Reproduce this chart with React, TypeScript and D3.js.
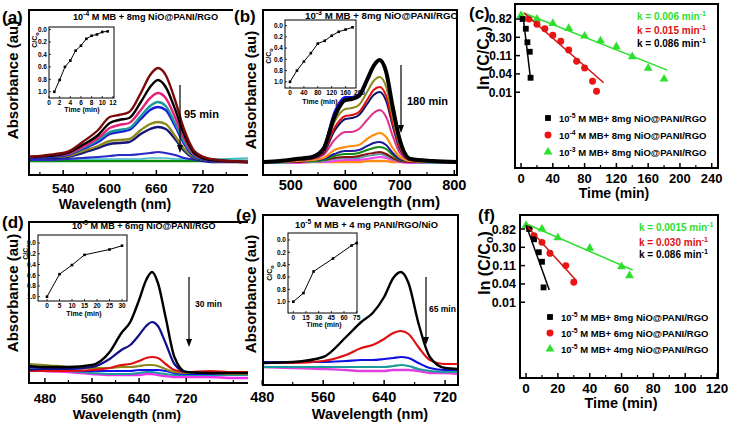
import React from 'react';
import * as d3 from 'd3';

const FONT = '"Liberation Sans", Arial, Helvetica, sans-serif';

// (a) 10^-4 M MB + 8 mg, absorbance spectra, top -> bottom
const WL_A = [496, 520, 545, 565, 585, 600, 612, 625, 640, 652, 662, 672, 684, 696, 710, 730, 778];
const ABS_A = [
  [0.18, 0.20, 0.23, 0.33, 0.45, 0.58, 0.60, 0.63, 0.82, 1.00, 1.07, 1.00, 0.75, 0.45, 0.23, 0.16, 0.13],
  [0.18, 0.19, 0.22, 0.30, 0.40, 0.52, 0.55, 0.57, 0.73, 0.88, 0.95, 0.88, 0.66, 0.40, 0.21, 0.15, 0.13],
  [0.18, 0.19, 0.21, 0.28, 0.37, 0.47, 0.50, 0.52, 0.65, 0.77, 0.82, 0.77, 0.58, 0.36, 0.20, 0.15, 0.13],
  [0.18, 0.19, 0.21, 0.27, 0.35, 0.43, 0.45, 0.47, 0.59, 0.69, 0.73, 0.69, 0.52, 0.33, 0.19, 0.15, 0.14],
  [0.17, 0.18, 0.20, 0.26, 0.33, 0.41, 0.43, 0.45, 0.56, 0.65, 0.68, 0.65, 0.49, 0.31, 0.18, 0.14, 0.13],
  [0.17, 0.18, 0.19, 0.24, 0.29, 0.34, 0.35, 0.36, 0.45, 0.51, 0.53, 0.51, 0.39, 0.26, 0.17, 0.14, 0.13],
  [0.17, 0.17, 0.18, 0.22, 0.27, 0.31, 0.32, 0.33, 0.41, 0.46, 0.48, 0.46, 0.36, 0.24, 0.16, 0.13, 0.13],
  [0.15, 0.15, 0.16, 0.17, 0.18, 0.19, 0.20, 0.20, 0.21, 0.22, 0.23, 0.22, 0.20, 0.17, 0.15, 0.14, 0.13],
  [0.16, 0.16, 0.16, 0.16, 0.16, 0.16, 0.16, 0.16, 0.16, 0.17, 0.17, 0.17, 0.16, 0.16, 0.16, 0.16, 0.17],
  [0.14, 0.14, 0.14, 0.14, 0.14, 0.14, 0.14, 0.14, 0.14, 0.14, 0.14, 0.14, 0.14, 0.14, 0.14, 0.14, 0.14],
];
const COLORS_A = ['#7a0a0a', '#000000', '#e8207a', '#1a9a9a', '#1a1adf', '#8c8a1a', '#14147a', '#2a2ac8', '#40b8d0', '#0a8a0a'];

// (b) 10^-3 M MB + 8 mg
const WL_B = [450, 480, 510, 540, 560, 580, 600, 612, 625, 640, 652, 663, 675, 687, 700, 720, 760, 805];
const ABS_B = [
  [0.13, 0.14, 0.16, 0.18, 0.26, 0.58, 0.75, 0.76, 0.79, 0.95, 1.09, 1.15, 1.03, 0.68, 0.35, 0.16, 0.14, 0.13],
  [0.13, 0.14, 0.16, 0.19, 0.28, 0.63, 0.78, 0.78, 0.81, 0.97, 1.10, 1.15, 1.03, 0.68, 0.35, 0.16, 0.14, 0.13],
  [0.13, 0.14, 0.15, 0.18, 0.25, 0.53, 0.66, 0.67, 0.70, 0.83, 0.94, 0.98, 0.88, 0.58, 0.30, 0.16, 0.14, 0.13],
  [0.13, 0.14, 0.15, 0.17, 0.23, 0.47, 0.59, 0.60, 0.63, 0.75, 0.85, 0.88, 0.79, 0.52, 0.28, 0.15, 0.14, 0.13],
  [0.13, 0.14, 0.15, 0.17, 0.22, 0.44, 0.56, 0.57, 0.60, 0.71, 0.80, 0.83, 0.74, 0.49, 0.26, 0.15, 0.14, 0.13],
  [0.13, 0.14, 0.15, 0.16, 0.20, 0.35, 0.43, 0.43, 0.46, 0.55, 0.62, 0.65, 0.58, 0.39, 0.22, 0.15, 0.14, 0.13],
  [0.13, 0.13, 0.14, 0.15, 0.17, 0.25, 0.28, 0.29, 0.30, 0.36, 0.40, 0.42, 0.38, 0.27, 0.18, 0.14, 0.13, 0.13],
  [0.13, 0.13, 0.14, 0.15, 0.16, 0.21, 0.24, 0.24, 0.25, 0.29, 0.32, 0.33, 0.30, 0.22, 0.16, 0.14, 0.13, 0.13],
  [0.13, 0.13, 0.14, 0.14, 0.15, 0.19, 0.21, 0.21, 0.22, 0.25, 0.27, 0.28, 0.26, 0.20, 0.15, 0.14, 0.13, 0.13],
  [0.13, 0.13, 0.13, 0.14, 0.15, 0.17, 0.18, 0.18, 0.19, 0.21, 0.22, 0.23, 0.21, 0.17, 0.14, 0.13, 0.13, 0.12],
  [0.12, 0.12, 0.13, 0.13, 0.14, 0.16, 0.17, 0.17, 0.17, 0.19, 0.20, 0.21, 0.19, 0.16, 0.14, 0.13, 0.12, 0.12],
  [0.12, 0.12, 0.12, 0.13, 0.13, 0.14, 0.15, 0.15, 0.15, 0.16, 0.17, 0.18, 0.17, 0.15, 0.13, 0.12, 0.12, 0.12],
  [0.13, 0.13, 0.13, 0.13, 0.13, 0.13, 0.13, 0.13, 0.13, 0.14, 0.14, 0.14, 0.14, 0.13, 0.13, 0.13, 0.13, 0.13],
];
const COLORS_B = ['#000000', '#1010f0', '#8c8a1a', '#e01010', '#10106a', '#e0308a', '#ff8c10', '#1a1a9a', '#108a10', '#8a1010', '#5a9aa8', '#f040f0', '#ff8c10'];
const WIDTHS_B = [4, 2, 2, 2, 2, 2, 2.2, 2, 2, 2, 2, 2, 2.6];

// (d) 10^-5 M MB + 6 mg
const WL_D = [453, 480, 520, 560, 590, 610, 625, 640, 652, 662, 672, 685, 700, 720, 760, 800, 825];
const ABS_D = [
  [0.17, 0.16, 0.16, 0.18, 0.31, 0.50, 0.61, 0.83, 1.03, 1.11, 1.00, 0.66, 0.26, 0.11, 0.10, 0.10, 0.10],
  [0.13, 0.14, 0.14, 0.16, 0.24, 0.33, 0.38, 0.48, 0.57, 0.61, 0.57, 0.40, 0.19, 0.11, 0.10, 0.10, 0.10],
  [0.12, 0.12, 0.12, 0.13, 0.15, 0.18, 0.19, 0.22, 0.25, 0.26, 0.25, 0.19, 0.13, 0.11, 0.12, 0.11, 0.11],
  [0.19, 0.18, 0.16, 0.15, 0.15, 0.16, 0.16, 0.17, 0.18, 0.18, 0.17, 0.14, 0.11, 0.10, 0.10, 0.09, 0.09],
  [0.16, 0.15, 0.13, 0.12, 0.12, 0.12, 0.12, 0.13, 0.13, 0.13, 0.13, 0.12, 0.10, 0.09, 0.09, 0.09, 0.09],
  [0.14, 0.13, 0.12, 0.10, 0.09, 0.09, 0.09, 0.10, 0.11, 0.11, 0.10, 0.09, 0.08, 0.08, 0.08, 0.08, 0.08],
  [0.14, 0.12, 0.11, 0.09, 0.08, 0.08, 0.08, 0.08, 0.09, 0.09, 0.08, 0.07, 0.06, 0.06, 0.06, 0.05, 0.05],
];
const COLORS_D = ['#000000', '#10108a', '#e01010', '#8c8a1a', '#1010f0', '#1a9a9a', '#f030f0'];

// (e) 10^-5 M MB + 4 mg PANI/RGO/NiO
const WL_E = [481, 520, 560, 590, 610, 625, 640, 652, 662, 672, 685, 700, 720, 737];
const ABS_E = [
  [0.22, 0.23, 0.28, 0.48, 0.63, 0.72, 0.88, 1.07, 1.13, 1.02, 0.62, 0.28, 0.17, 0.16],
  [0.22, 0.22, 0.24, 0.30, 0.37, 0.40, 0.46, 0.52, 0.54, 0.51, 0.38, 0.25, 0.21, 0.21],
  [0.23, 0.23, 0.23, 0.24, 0.25, 0.25, 0.26, 0.27, 0.28, 0.27, 0.22, 0.17, 0.15, 0.15],
  [0.18, 0.18, 0.18, 0.18, 0.18, 0.18, 0.18, 0.19, 0.20, 0.19, 0.16, 0.14, 0.13, 0.13],
  [0.18, 0.17, 0.16, 0.15, 0.14, 0.14, 0.14, 0.15, 0.15, 0.15, 0.14, 0.12, 0.12, 0.11],
];
const COLORS_E = ['#000000', '#e01010', '#1010e0', '#1a9a9a', '#e040e0'];

// insets: C/C0 vs time
const INSET_A_T = [1, 2, 3, 4, 5, 6, 7, 8, 9, 10, 11];
const INSET_A_C = [1.0, 0.81, 0.6, 0.5, 0.34, 0.26, 0.15, 0.1, 0.08, 0.04, 0.03];
const INSET_B_T = [0, 20, 40, 60, 80, 100, 120, 140, 160, 180];
const INSET_B_C = [1.0, 0.8, 0.64, 0.49, 0.32, 0.27, 0.18, 0.11, 0.07, 0.03];
const INSET_D_T = [0, 5, 10, 15, 25, 30];
const INSET_D_C = [1.0, 0.58, 0.41, 0.22, 0.12, 0.05];
const INSET_E_T = [0, 12, 24, 47, 69, 75];
const INSET_E_C = [1.0, 0.86, 0.51, 0.3, 0.09, 0.05];
const CC0_TICKS = [0, 0.2, 0.4, 0.6, 0.8, 1.0];

// (c) ln(C/C0) vs time, concentration series
const LN_TICKS = [-0.2, -1.2, -2.2, -3.2, -4.2];
const LN_LABELS = ['0.82', '0.30', '0.11', '0.04', '0.01'];
const C_BLACK_T = [2, 6, 8, 11, 12];
const C_BLACK_LN = [-0.2, -0.73, -1.47, -1.99, -3.41];
const C_RED_T = [10, 20, 30, 40, 50, 60, 70, 80, 90, 95];
const C_RED_LN = [-0.2, -0.49, -0.73, -1.09, -1.42, -1.89, -2.51, -2.88, -3.6, -4.15];
const C_GREEN_T = [0, 20, 40, 60, 80, 100, 120, 140, 160, 180];
const C_GREEN_LN = [0.0, -0.2, -0.44, -0.71, -1.13, -1.39, -1.71, -2.26, -2.89, -3.48];
const C_FIT_BLACK = [[2.9, -0.16], [12.1, -3.53]];
const C_FIT_RED = [[4, 0.12], [104, -3.68]];
const C_FIT_GREEN = [[2.9, 0.14], [184, -2.99]];
const C_K = ['0.006', '0.015', '0.086'];
const C_LEGEND = ['-5', '-4', '-3'];
const C_TICKS = [0, 40, 80, 120, 160, 200, 240];

// (f) ln(C/C0) vs time, catalyst mass series
const F_BLACK_T = [2, 5, 8, 10, 11];
const F_BLACK_LN = [-0.2, -0.76, -1.47, -1.99, -3.39];
const F_RED_T = [2, 5, 10, 15, 25, 30];
const F_RED_LN = [-0.16, -0.57, -0.93, -1.53, -2.2, -3.11];
const F_GREEN_T = [0, 10, 20, 40, 60, 65];
const F_GREEN_LN = [0.0, -0.2, -0.68, -1.25, -2.26, -2.75];
const F_FIT_BLACK = [[0, 0.02], [14.6, -3.53]];
const F_FIT_RED = [[0.4, -0.04], [31.7, -3.03]];
const F_FIT_GREEN = [[0.4, 0.07], [67, -2.44]];
const F_K = ['0.0015', '0.030', '0.086'];
const F_LEGEND = ['8mg', '6mg', '4mg'];
const F_TICKS = [0, 20, 40, 60, 80, 100, 120];

type Box = { x0: number; x1: number; y0: number; y1: number };

function Sup({ base, sup, fs, after }: { base: string; sup: string; fs: number; after: string }) {
  return (
    <>
      {base}
      <tspan dy={-fs * 0.4} fontSize={fs * 0.72}>{sup}</tspan>
      <tspan dy={fs * 0.4}>{after}</tspan>
    </>
  );
}

function Inset(props: {
  box: Box; xDomain: [number, number]; yDomain: [number, number]; xTicks: number[];
  t: number[]; c: number[]; tickY: number; titleX: number; titleY: number; ylab: [number, number];
}) {
  const { box } = props;
  const x = d3.scaleLinear().domain(props.xDomain).range([box.x0, box.x1]);
  const y = d3.scaleLinear().domain(props.yDomain).range([box.y0, box.y1]);
  const line = d3.line<number>().x((_, i) => x(props.t[i])).y(d => y(d));
  return (
    <g fontFamily={FONT} fontWeight="bold" fontSize={6.5}>
      <rect x={box.x0} y={box.y0} width={box.x1 - box.x0} height={box.y1 - box.y0} fill="#fff" stroke="#000" strokeWidth={1} />
      {props.xTicks.map(v => (
        <g key={v}>
          {x(v) <= box.x1 + 0.5 && <line x1={x(v)} x2={x(v)} y1={box.y1} y2={box.y1 - 2} stroke="#000" strokeWidth={0.8} />}
          <text x={x(v)} y={props.tickY} textAnchor="middle">{v}</text>
        </g>
      ))}
      {CC0_TICKS.map(v => (
        <g key={v}>
          <line x1={box.x0} x2={box.x0 + 2} y1={y(v)} y2={y(v)} stroke="#000" strokeWidth={0.8} />
          <text x={box.x0 - 2} y={y(v) + 2.3} textAnchor="end">{v.toFixed(1)}</text>
        </g>
      ))}
      <path d={line(props.c) ?? ''} fill="none" stroke="#000" strokeWidth={1} />
      {props.c.map((v, i) => (
        <rect key={i} x={x(props.t[i]) - 1.3} y={y(v) - 1.3} width={2.6} height={2.6} fill="#000" />
      ))}
      <text x={props.titleX} y={props.titleY} textAnchor="middle" fontSize={7}>Time (min)</text>
      <text transform={`translate(${props.ylab[0]},${props.ylab[1]}) rotate(-90)`} textAnchor="middle" fontSize={7}>
        C/C<tspan dy={2} fontSize={5.5}>o</tspan>
      </text>
    </g>
  );
}

function Spectra(props: {
  id: string; box: Box; xDomain: [number, number]; yMax: number; wl: number[]; series: number[][];
  colors: string[]; widths?: number[]; ticks: number[]; minor: number[]; tickFs: number; tickY: number;
  openRight?: boolean;
}) {
  const { box } = props;
  const x = d3.scaleLinear().domain(props.xDomain).range([box.x0, box.x1]);
  const y = d3.scaleLinear().domain([0, props.yMax]).range([box.y1, box.y0]);
  const line = d3.line<number>().x((_, i) => x(props.wl[i])).y(d => y(d)).curve(d3.curveMonotoneX);
  const order = props.series.map((_, i) => i).reverse();
  const frame = props.openRight
    ? `M${box.x1},${box.y0} H${box.x0} V${box.y1} H${box.x1}`
    : `M${box.x0},${box.y0} H${box.x1} V${box.y1} H${box.x0} Z`;
  return (
    <g>
      <clipPath id={props.id}>
        <rect x={box.x0} y={box.y0} width={box.x1 - box.x0} height={box.y1 - box.y0} />
      </clipPath>
      <g clipPath={`url(#${props.id})`}>
        {order.map(i => (
          <path key={i} d={line(props.series[i]) ?? ''} fill="none" stroke={props.colors[i]}
            strokeWidth={props.widths ? props.widths[i] : 2} strokeLinejoin="round" />
        ))}
      </g>
      <path d={frame} fill="none" stroke="#000" strokeWidth={2} />
      {props.ticks.map(v => (
        <g key={v}>
          <line x1={x(v)} x2={x(v)} y1={box.y1} y2={box.y1 - 5} stroke="#000" strokeWidth={1.5} />
          <text x={x(v)} y={props.tickY} textAnchor="middle" fontFamily={FONT} fontWeight="bold" fontSize={props.tickFs}>{v}</text>
        </g>
      ))}
      {props.minor.map(v => (
        <line key={v} x1={x(v)} x2={x(v)} y1={box.y1} y2={box.y1 - 3} stroke="#000" strokeWidth={1.2} />
      ))}
    </g>
  );
}

function Arrow({ x, y0, y1 }: { x: number; y0: number; y1: number }) {
  return (
    <g>
      <line x1={x} x2={x} y1={y0} y2={y1 - 6} stroke="#000" strokeWidth={1.2} />
      <path d={`M${x - 3},${y1 - 8} L${x + 3},${y1 - 8} L${x},${y1} Z`} fill="#000" />
    </g>
  );
}

const SQUARE = d3.symbol(d3.symbolSquare, 34)() ?? '';
const CIRCLE = d3.symbol(d3.symbolCircle, 38)() ?? '';
const TRIANGLE = d3.symbol(d3.symbolTriangle, 34)() ?? '';
const RED = '#ee1414';
const GREEN = '#2ee02e';

function Kinetics(props: {
  box: Box; xDomain: [number, number]; yDomain: [number, number]; xTicks: number[]; minorStep: number;
  black: [number[], number[]]; red: [number[], number[]]; green: [number[], number[]];
  fits: number[][][]; tickFs: number; yTickFs: number; tickY: number; yLabX: number;
}) {
  const { box } = props;
  const x = d3.scaleLinear().domain(props.xDomain).range([box.x0, box.x1]);
  const y = d3.scaleLinear().domain(props.yDomain).range([box.y1, box.y0]);
  const fit = d3.line<number[]>().x(d => x(d[0])).y(d => y(d[1]));
  const minors = d3.range(props.xTicks[0] + props.minorStep, props.xTicks[props.xTicks.length - 1], props.minorStep * 2);
  const pts = (s: [number[], number[]], shape: string, color: string) =>
    s[0].map((t, i) => <path key={i} d={shape} transform={`translate(${x(t)},${y(s[1][i])})`} fill={color} />);
  return (
    <g fontFamily={FONT} fontWeight="bold">
      <rect x={box.x0} y={box.y0} width={box.x1 - box.x0} height={box.y1 - box.y0} fill="none" stroke="#000" strokeWidth={2} />
      {props.xTicks.map(v => (
        <g key={v}>
          <line x1={x(v)} x2={x(v)} y1={box.y1} y2={box.y1 - 5} stroke="#000" strokeWidth={1.5} />
          <text x={x(v)} y={props.tickY} textAnchor="middle" fontSize={props.tickFs}>{v}</text>
        </g>
      ))}
      {minors.map(v => (
        <line key={v} x1={x(v)} x2={x(v)} y1={box.y1} y2={box.y1 - 3} stroke="#000" strokeWidth={1.2} />
      ))}
      {LN_TICKS.map((v, i) => (
        <g key={v}>
          <line x1={box.x0} x2={box.x0 + 5} y1={y(v)} y2={y(v)} stroke="#000" strokeWidth={1.5} />
          <text x={props.yLabX} y={y(v) + props.yTickFs * 0.36} textAnchor="end" fontSize={props.yTickFs}>{LN_LABELS[i]}</text>
        </g>
      ))}
      {pts(props.green, TRIANGLE, GREEN)}
      {pts(props.red, CIRCLE, RED)}
      {pts(props.black, SQUARE, '#000')}
      <path d={fit(props.fits[2]) ?? ''} stroke={GREEN} strokeWidth={1.5} fill="none" />
      <path d={fit(props.fits[1]) ?? ''} stroke="#d01818" strokeWidth={1.5} fill="none" />
      <path d={fit(props.fits[0]) ?? ''} stroke="#000" strokeWidth={1.5} fill="none" />
    </g>
  );
}

function KText({ x, y, k, color }: { x: number; y: number; k: string; color: string }) {
  return (
    <text x={x} y={y} fill={color} fontFamily={FONT} fontWeight="bold" fontSize={10}>
      <Sup base={`k = ${k} min`} sup="-1" fs={10} after="" />
    </text>
  );
}

function Legend({ x, y0, step, exps, masses }: { x: number; y0: number; step: number; exps: string[]; masses: string[] }) {
  const shapes = [[SQUARE, '#000'], [CIRCLE, RED], [TRIANGLE, GREEN]];
  return (
    <g fontFamily={FONT} fontWeight="bold" fontSize={9.5}>
      {exps.map((e, i) => (
        <g key={i}>
          <path d={shapes[i][0]} transform={`translate(${x},${y0 + i * step})`} fill={shapes[i][1]} />
          <text x={x + 11} y={y0 + i * step + 3.5}>
            <Sup base="10" sup={e} fs={9.5} after={` M MB+ ${masses[i]} NiO@PANI/RGO`} />
          </text>
        </g>
      ))}
    </g>
  );
}

function LnLabel({ x, y }: { x: number; y: number }) {
  return (
    <text transform={`translate(${x},${y}) rotate(-90)`} textAnchor="middle" fontSize={16} fontFamily={FONT} fontWeight="bold">
      ln (C/C<tspan dy={3} fontSize={11}>o</tspan><tspan dy={-3}>)</tspan>
    </text>
  );
}

export default function App() {
  const bold = { fontFamily: FONT, fontWeight: 'bold' as const };
  const boxA = { x0: 29, x1: 248, y0: 10, y1: 175 };
  const boxB = { x0: 263, x1: 457, y0: 10, y1: 175 };
  const boxC = { x0: 515, x1: 718, y0: 4, y1: 168 };
  const boxD = { x0: 29, x1: 248, y0: 222, y1: 383 };
  const boxE = { x0: 263, x1: 458, y0: 215, y1: 385 };
  const boxF = { x0: 520, x1: 718, y0: 215, y1: 378 };
  return (
    <svg width={729} height={422} style={{ position: 'absolute', left: 0, top: 0, background: '#fff' }}>
      <rect width={729} height={422} fill="#fff" />

      {/* (a) */}
      <Spectra id="ca" box={boxA} xDomain={[496, 778]} yMax={1.65} wl={WL_A} series={ABS_A} colors={COLORS_A}
        widths={[2.4, 2.4, 2.4, 2.4, 2.4, 2.4, 2.4, 2.2, 1.5, 2.4]} openRight
        ticks={[540, 600, 660, 720]} minor={[510, 570, 630, 690, 750]} tickFs={13.5} tickY={193} />
      <Inset box={{ x0: 49, x1: 114, y0: 27, y1: 98 }} xDomain={[0, 12.2]} yDomain={[-0.04, 1.1]}
        xTicks={[0, 2, 4, 6, 8, 10, 12]} t={INSET_A_T} c={INSET_A_C} tickY={105} titleX={82} titleY={112} ylab={[37, 40]} />
      <text x={73} y={20} fontSize={9.2} {...bold}><Sup base="10" sup="-4" fs={9.2} after=" M MB + 8mg NiO@PANI/RGO" /></text>
      <Arrow x={180} y0={85} y1={153} />
      <text x={184} y={118} fontSize={11} {...bold}>95 min</text>
      <text x={2} y={23} fontSize={17} {...bold}>(a)</text>
      <text transform="translate(18,80) rotate(-90)" textAnchor="middle" fontSize={15} {...bold}>Absorbance (au)</text>
      <text x={115} y={209} textAnchor="middle" fontSize={14} {...bold}>Wavelength (nm)</text>

      {/* (b) */}
      <rect x={233} y={0} width={29} height={26} fill="#fff" />
      <Spectra id="cb" box={boxB} xDomain={[449, 805]} yMax={1.65} wl={WL_B} series={ABS_B} colors={COLORS_B}
        widths={WIDTHS_B} ticks={[500, 600, 700, 800]} minor={[550, 650, 750]} tickFs={14.5} tickY={190} />
      <Inset box={{ x0: 285, x1: 356, y0: 20, y1: 88 }} xDomain={[-14.4, 190]} yDomain={[-0.1, 1.11]}
        xTicks={[0, 40, 80, 120, 160, 200]} t={INSET_B_T} c={INSET_B_C} tickY={95} titleX={320} titleY={104} ylab={[271, 56]} />
      <text x={305} y={19} fontSize={9.7} {...bold}><Sup base="10" sup="-3" fs={9.7} after=" M MB + 8mg NiO@PANI/RGO" /></text>
      <Arrow x={401} y0={65} y1={133} />
      <text x={407} y={105} fontSize={11} {...bold}>180 min</text>
      <text x={234} y={22} fontSize={17} {...bold}>(b)</text>
      <text transform="translate(256,90) rotate(-90)" textAnchor="middle" fontSize={15} {...bold}>Absorbance (au)</text>
      <text x={378} y={207} textAnchor="middle" fontSize={15.5} {...bold}>Wavelength (nm)</text>

      {/* (c) */}
      <Kinetics box={boxC} xDomain={[-7.6, 247.9]} yDomain={[-8.34, 0.62]} xTicks={C_TICKS} minorStep={20}
        black={[C_BLACK_T, C_BLACK_LN]} red={[C_RED_T, C_RED_LN]} green={[C_GREEN_T, C_GREEN_LN]}
        fits={[C_FIT_BLACK, C_FIT_RED, C_FIT_GREEN]} tickFs={13} yTickFs={12} tickY={183} yLabX={512} />
      <KText x={637} y={20} k={C_K[0]} color={GREEN} />
      <KText x={637} y={34} k={C_K[1]} color="#e01010" />
      <KText x={637} y={47} k={C_K[2]} color="#000" />
      <Legend x={548} y0={118} step={17} exps={C_LEGEND} masses={['8mg', '8mg', '8mg']} />
      <text x={469} y={19} fontSize={17} {...bold}>(c)</text>
      <LnLabel x={489} y={58} />
      <text x={614} y={198} textAnchor="middle" fontSize={14} {...bold}>Time (min)</text>

      {/* (d) */}
      <Spectra id="cd" box={boxD} xDomain={[453, 825]} yMax={1.61} wl={WL_D} series={ABS_D} colors={COLORS_D}
        widths={[2.4, 2.2, 2.2, 2.2, 2.2, 2, 2.4]} openRight
        ticks={[480, 560, 640, 720]} minor={[520, 600, 680, 760, 800]} tickFs={13.5} tickY={402.5} />
      <Inset box={{ x0: 38, x1: 127, y0: 235, y1: 301 }} xDomain={[-3.6, 32]} yDomain={[-0.15, 1.08]}
        xTicks={[0, 5, 10, 15, 20, 25, 30]} t={INSET_D_T} c={INSET_D_C} tickY={308} titleX={84} titleY={316} ylab={[28, 252]} />
      <text x={72} y={229} fontSize={9.1} {...bold}><Sup base="10" sup="-5" fs={9.1} after=" M MB + 6mg NiO@PANI/RGO" /></text>
      <Arrow x={189} y0={277} y1={347} />
      <text x={195} y={307} fontSize={8.5} {...bold}>30 min</text>
      <text x={2} y={228} fontSize={17} {...bold}>(d)</text>
      <text transform="translate(18,293) rotate(-90)" textAnchor="middle" fontSize={15} {...bold}>Absorbance (au)</text>
      <text x={127} y={419} textAnchor="middle" fontSize={13.5} {...bold}>Wavelength (nm)</text>

      {/* (e) */}
      <Spectra id="ce" box={boxE} xDomain={[481, 737]} yMax={1.70} wl={WL_E} series={ABS_E} colors={COLORS_E}
        widths={[2.4, 2.2, 2.2, 2.2, 2.4]}
        ticks={[480, 560, 640, 720]} minor={[520, 600, 680]} tickFs={14.5} tickY={401.5} />
      <Inset box={{ x0: 288, x1: 357, y0: 233, y1: 313 }} xDomain={[-6.3, 75.4]} yDomain={[-0.113, 1.183]}
        xTicks={[0, 15, 30, 45, 60, 75]} t={INSET_E_T} c={INSET_E_C} tickY={320} titleX={324} titleY={327} ylab={[272, 273]} />
      <text x={295} y={228} fontSize={9.3} {...bold}><Sup base="10" sup="-5" fs={9.3} after=" M MB + 4 mg PANI/RGO/NiO" /></text>
      <Arrow x={426} y0={277} y1={345} />
      <text x={429} y={312} fontSize={8.5} {...bold}>65 min</text>
      <text x={236} y={221} fontSize={17} {...bold}>(e)</text>
      <text transform="translate(256,294) rotate(-90)" textAnchor="middle" fontSize={15} {...bold}>Absorbance (au)</text>
      <text x={370} y={419} textAnchor="middle" fontSize={14.5} {...bold}>Wavelength (nm)</text>

      {/* (f) */}
      <Kinetics box={boxF} xDomain={[-3.8, 120.6]} yDomain={[-8.34, 0.565]} xTicks={F_TICKS} minorStep={10}
        black={[F_BLACK_T, F_BLACK_LN]} red={[F_RED_T, F_RED_LN]} green={[F_GREEN_T, F_GREEN_LN]}
        fits={[F_FIT_BLACK, F_FIT_RED, F_FIT_GREEN]} tickFs={13.5} yTickFs={12.5} tickY={393} yLabX={516} />
      <KText x={639} y={231} k={F_K[0]} color={GREEN} />
      <KText x={639} y={246} k={F_K[1]} color="#e01010" />
      <KText x={639} y={258} k={F_K[2]} color="#000" />
      <Legend x={550} y0={317} step={16} exps={['-5', '-5', '-5']} masses={F_LEGEND} />
      <text x={478} y={221} fontSize={17} {...bold}>(f)</text>
      <LnLabel x={490} y={263} />
      <text x={621} y={408} textAnchor="middle" fontSize={14.5} {...bold}>Time (min)</text>
    </svg>
  );
}
